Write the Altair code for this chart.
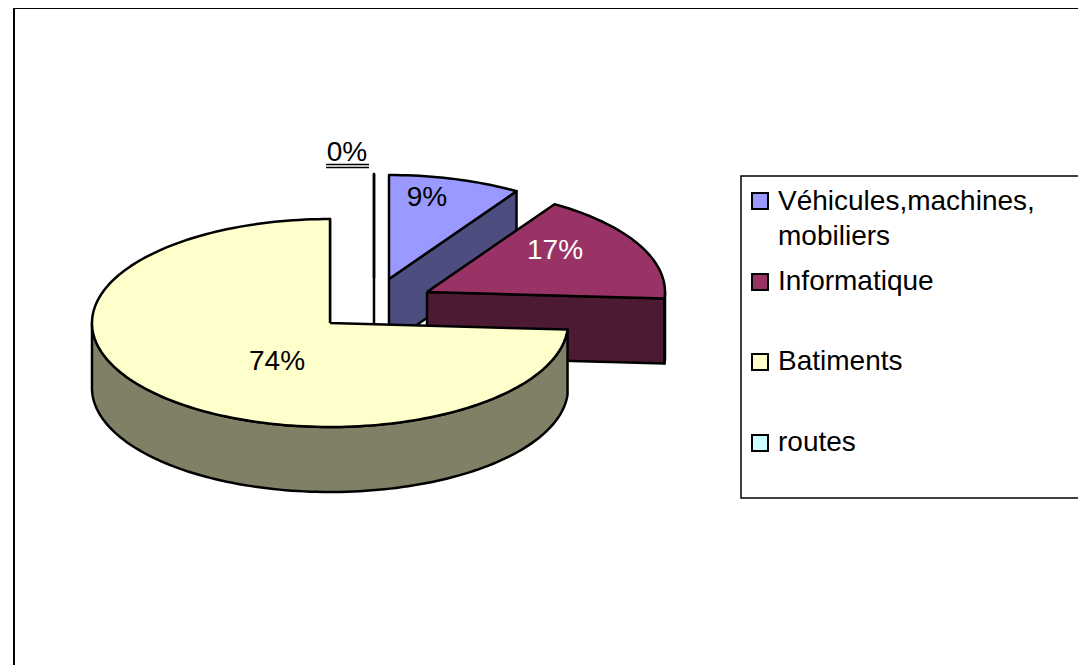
import math
import altair as alt
import pandas as pd

CATEGORIES = ["Véhicules,machines,", "Informatique", "Batiments", "routes"]
SHARES = [9, 17, 74, 0]
PERCENT_LABELS = ["9%", "17%", "74%", "0%"]
TOP_COLORS = ["#9999FF", "#993366", "#FFFFCC", "#CCFFFF"]
SIDE_COLORS = ["#4D4D80", "#4D1A33", "#808066", "#668080"]

# layout of the drawing, in picture pixels
X_DOMAIN = [8, 1078]
Y_DOMAIN = [8, 665]
RX, RY, DEPTH = 238, 104, 65
APEX = [(389, 279), (427, 292), (330, 323), (374, 278)]
LABEL_AT = [(427, 198), (555, 251), (277, 362), (347, 153)]
LABEL_INK = ["#000000", "#FFFFFF", "#000000", "#000000"]
LEGEND_Y = [201, 282, 362, 443]

x_scale = alt.Scale(domain=X_DOMAIN, zero=False, nice=False)
y_scale = alt.Scale(domain=Y_DOMAIN[::-1], zero=False, nice=False)
X = alt.X("x:Q", scale=x_scale, axis=None)
Y = alt.Y("y:Q", scale=y_scale, axis=None)


def poly(points, fill):
    points = list(points) + [points[0]]
    df = pd.DataFrame({"x": [p[0] for p in points], "y": [p[1] for p in points], "i": range(len(points))})
    return alt.Chart(df).mark_line(fill=fill, stroke="#000000", strokeWidth=2.5, strokeJoin="round").encode(
        x=X, y=Y, order="i:Q")


def rim(cx, cy, deg):
    rad = math.radians(deg)
    return (cx + RX * math.sin(rad), cy - RY * math.cos(rad))


def arc(cx, cy, a0, a1, dy=0):
    n = max(2, int(abs(a1 - a0) / 1.5) + 2)
    pts = []
    for k in range(n):
        px, py = rim(cx, cy, a0 + (a1 - a0) * k / (n - 1))
        pts.append((px, py + dy))
    return pts


starts, run = [], 0.0
for s in SHARES:
    starts.append(run)
    run += s * 3.6

layers = []
# frame and legend box
frame = pd.DataFrame({"x": [14, 14, X_DOMAIN[1]], "y": [665, 8, 8], "i": [0, 1, 2]})
layers.append(alt.Chart(frame).mark_line(color="#000000", strokeWidth=2).encode(x=X, y=Y, order="i:Q"))
box = pd.DataFrame({"x": [X_DOMAIN[1], 741, 741, X_DOMAIN[1]], "y": [176, 176, 498, 498], "i": [0, 1, 2, 3]})
layers.append(alt.Chart(box).mark_line(color="#000000", strokeWidth=1.5).encode(x=X, y=Y, order="i:Q"))

for idx in [3, 0, 1, 2]:
    cx, cy = APEX[idx]
    a0 = starts[idx]
    a1 = a0 + SHARES[idx] * 3.6
    ex, ey = rim(cx, cy, a1)
    layers.append(poly([(cx, cy), (ex, ey), (ex, ey + DEPTH), (cx, cy + DEPTH)], SIDE_COLORS[idx]))
    lo, hi = max(a0, 90), min(a1, 270)
    if hi > lo:
        layers.append(poly(arc(cx, cy, lo, hi) + arc(cx, cy, hi, lo, DEPTH), SIDE_COLORS[idx]))
    layers.append(poly([(cx, cy)] + arc(cx, cy, a0, a1), TOP_COLORS[idx]))

labels = pd.DataFrame({"x": [p[0] for p in LABEL_AT], "y": [p[1] for p in LABEL_AT],
                       "t": PERCENT_LABELS, "c": LABEL_INK})
layers.append(alt.Chart(labels).mark_text(font="Liberation Sans", fontSize=28, baseline="middle", align="center").encode(
    x=X, y=Y, text="t:N", color=alt.Color("c:N", scale=None)))
under = pd.DataFrame({"x": [326, 326], "x2": [369, 369], "y": [164.5, 167.5]})
layers.append(alt.Chart(under).mark_rule(color="#000000", strokeWidth=1.5).encode(x=X, x2="x2:Q", y=Y))

legend = pd.DataFrame({"x": [760] * 4, "y": LEGEND_Y, "c": TOP_COLORS})
layers.append(alt.Chart(legend).mark_point(shape="square", filled=True, size=256, stroke="#000000", strokeWidth=2, opacity=1).encode(
    x=X, y=Y, fill=alt.Fill("c:N", scale=None)))
legend_text = pd.DataFrame({"x": [778] * 5, "y": [202, 237, 282, 362, 443],
                            "t": [CATEGORIES[0], "mobiliers", CATEGORIES[1], CATEGORIES[2], CATEGORIES[3]]})
layers.append(alt.Chart(legend_text).mark_text(font="Liberation Sans", fontSize=28, baseline="middle", align="left", color="#000000").encode(
    x=X, y=Y, text="t:N"))

chart = alt.layer(*layers).properties(
    width=X_DOMAIN[1] - X_DOMAIN[0], height=Y_DOMAIN[1] - Y_DOMAIN[0],
    padding=0, autosize=alt.AutoSizeParams(type="none"),
).configure_view(stroke=None)

chart.save("out.html", embed_options={"renderer": "svg", "actions": False})
